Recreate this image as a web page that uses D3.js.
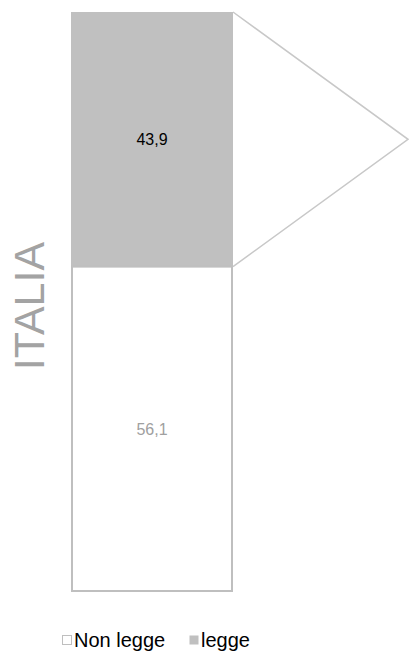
<!DOCTYPE html>
<html><head><meta charset="utf-8">
<script src="https://cdn.jsdelivr.net/npm/d3@7"></script>
<style>html,body{margin:0;padding:0;background:#fff;}svg{display:block;}</style>
</head><body>
<script>
const categories = ["ITALIA"];
const seriesNames = ["Non legge", "legge"];
const nonLegge = [56.1];
const legge = [43.9];
const labels = ["56,1", "43,9"];

const W = 409, H = 653;
const svg = d3.select("body").append("svg").attr("width", W).attr("height", H);
const font = "'Liberation Sans', Arial, sans-serif";

const y = d3.scaleLinear().domain([0, 100]).range([592, 12]);
const x = d3.scaleBand().domain(categories).range([71, 233]).padding(0);

const stack = [
  {name: seriesNames[0], v0: 0, v1: nonLegge[0], fill: "#ffffff", stroke: "#bfbfbf", text: "#a0a0a0", label: labels[0]},
  {name: seriesNames[1], v0: nonLegge[0], v1: nonLegge[0] + legge[0], fill: "#c0c0c0", stroke: "none", text: "#000000", label: labels[1]}
];

const cat = categories[0];
const x0 = x(cat), bw = x.bandwidth();

// gray segment
svg.append("rect").attr("x", x0).attr("y", y(stack[1].v1)).attr("width", bw)
  .attr("height", y(stack[1].v0) - y(stack[1].v1)).attr("fill", stack[1].fill);
// white segment with outline
svg.append("rect").attr("x", x0 + 1).attr("y", y(stack[0].v1)).attr("width", bw - 2)
  .attr("height", y(stack[0].v0) - y(stack[0].v1) - 1).attr("fill", "#fff")
  .attr("stroke", stack[0].stroke).attr("stroke-width", 2);

// connector lines (pie-of-bar style)
const tipX = 408, tipY = (y(stack[1].v1) + y(stack[1].v0)) / 2;
svg.append("polyline")
  .attr("points", `${x0 + bw},${y(stack[1].v1)} ${tipX},${tipY} ${x0 + bw},${y(stack[1].v0)}`)
  .attr("fill", "none").attr("stroke", "#c8c8c8").attr("stroke-width", 1.5);

// value labels
stack.forEach(s => {
  svg.append("text").attr("x", x0 + bw / 2).attr("y", (y(s.v0) + y(s.v1)) / 2 + 5.5)
    .attr("text-anchor", "middle").attr("font-family", font).attr("font-size", 16)
    .attr("fill", s.text).text(s.label);
});

// category label rotated
svg.append("text").attr("transform", `translate(44,${(y(0) + y(100)) / 2 + 4}) rotate(-90)`)
  .attr("text-anchor", "middle").attr("font-family", font).attr("font-size", 43)
  .attr("fill", "#a3a3a3").text(cat);

// legend
const leg = [
  {name: seriesNames[0], x: 62, fill: "#fff", stroke: "#bfbfbf"},
  {name: seriesNames[1], x: 189, fill: "#c0c0c0", stroke: "none"}
];
leg.forEach(l => {
  svg.append("rect").attr("x", l.x + 0.5).attr("y", 635.5).attr("width", 9).attr("height", 9)
    .attr("fill", l.fill).attr("stroke", l.stroke).attr("stroke-width", 1);
  svg.append("text").attr("x", l.x + 12).attr("y", 647).attr("font-family", font)
    .attr("font-size", 20).attr("fill", "#000").text(l.name);
});
</script>
</body></html>
